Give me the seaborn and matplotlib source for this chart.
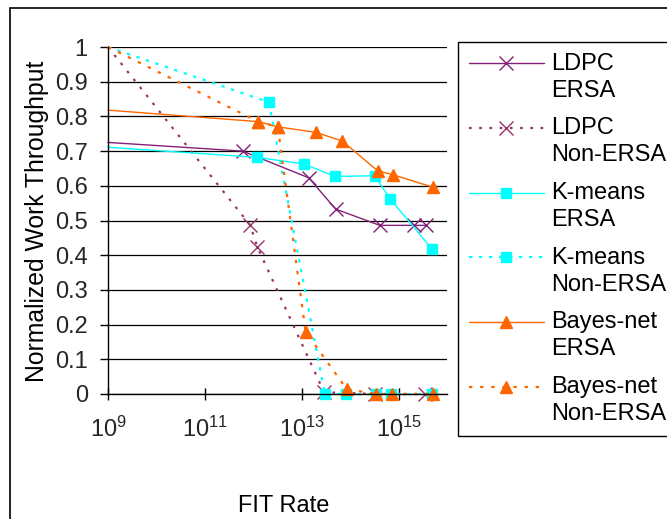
import numpy as np
import pandas as pd
import matplotlib
matplotlib.use("Agg")
import matplotlib.pyplot as plt
import seaborn as sns
from matplotlib.patches import Rectangle
from matplotlib.legend_handler import HandlerLine2D
from matplotlib.ticker import FixedLocator, FixedFormatter, NullLocator

# ---------------- data ----------------
ldpc_ersa_x = [1e9, 6.0e11, 1.4e13, 5.0e13, 4.1e14, 2.1e15, 3.6e15]
ldpc_ersa_y = [0.725, 0.700, 0.623, 0.533, 0.486, 0.486, 0.486]

ldpc_non_x = [1e9, 8.7e11, 1.2e12, 2.9e13, 3.3e14, 3.5e15]
ldpc_non_y = [1.0, 0.486, 0.425, 0.005, 0.0, 0.0]

km_ersa_x = [1e9, 1.2e12, 1.1e13, 4.9e13, 3.2e14, 6.8e14, 4.9e15]
km_ersa_y = [0.711, 0.682, 0.663, 0.627, 0.629, 0.561, 0.418]

km_non_x = [1e9, 2.1e12, 3.0e13, 8.1e13, 3.4e14, 7.1e14, 5.0e15]
km_non_y = [1.0, 0.841, 0.0, 0.0, 0.0, 0.0, 0.0]

bn_ersa_x = [1e9, 1.26e12, 3.2e12, 1.95e13, 6.9e13, 3.7e14, 7.6e14, 5.1e15]
bn_ersa_y = [0.818, 0.785, 0.770, 0.754, 0.729, 0.643, 0.632, 0.596]

bn_non_x = [1e9, 1.26e12, 3.2e12, 1.2e13, 8.5e13, 3.5e14, 7.4e14, 5.2e15]
bn_non_y = [1.0, 0.785, 0.770, 0.180, 0.014, 0.0, 0.0, 0.0]

series_labels = ["LDPC\nERSA", "LDPC\nNon-ERSA", "K-means\nERSA",
                 "K-means\nNon-ERSA", "Bayes-net\nERSA", "Bayes-net\nNon-ERSA"]

x_ticks = [1e9, 1e11, 1e13, 1e15]
x_tick_labels = [r"$10^{9}$", r"$10^{11}$", r"$10^{13}$", r"$10^{15}$"]
y_ticks = [0, 0.1, 0.2, 0.3, 0.4, 0.5, 0.6, 0.7, 0.8, 0.9, 1]
y_tick_labels = ["0", "0.1", "0.2", "0.3", "0.4", "0.5", "0.6", "0.7", "0.8", "0.9", "1"]

# ---------------- style ----------------
sns.set_theme(style="white")
plt.rcParams["font.family"] = ["Liberation Sans", "DejaVu Sans"]
plt.rcParams["mathtext.default"] = "regular"

fig = plt.figure(figsize=(6.67, 5.19), dpi=100)
fig.patch.set_facecolor("white")
ax = fig.add_axes([108 / 667, 1 - 394 / 519, 339 / 667, 347 / 519])
ax.set_facecolor("white")

purple = "#85207A"
plum = "#993366"
cyan = "#00FFFF"
orange = "#FF6600"
dot_purple = (0, (1.2, 3.4))
dot_cyan = (0, (1.5, 3.0))
dot_orange = (0, (1.5, 3.5))

specs = [
    (ldpc_ersa_x, ldpc_ersa_y, purple, "-", 1.0, "x", 10.5, 1.0),
    (ldpc_non_x, ldpc_non_y, plum, dot_purple, 1.6, "x", 10.5, 1.0),
    (km_ersa_x, km_ersa_y, cyan, "-", 1.0, "s", 7, 1.0),
    (km_non_x, km_non_y, cyan, dot_cyan, 1.6, "s", 7, 1.0),
    (bn_ersa_x, bn_ersa_y, orange, "-", 1.0, "^", 9, 1.0),
    (bn_non_x, bn_non_y, orange, dot_orange, 1.6, "^", 9, 1.0),
]

for (xs, ys, col, ls, lw, mk, ms, mew), lab in zip(specs, series_labels):
    df = pd.DataFrame({"FIT": xs, "T": ys})
    sns.lineplot(data=df, x="FIT", y="T", ax=ax, color=col, linestyle=ls,
                 linewidth=lw, marker=mk, markersize=ms, markeredgewidth=mew,
                 markeredgecolor=col, markerfacecolor=col, markevery=slice(1, None),
                 estimator=None, sort=False, label=lab, clip_on=False)

ax.set_xscale("log")
ax.set_xlim(1e9, 1e16)
ax.set_ylim(0, 1)

ax.xaxis.set_major_locator(FixedLocator(x_ticks))
ax.xaxis.set_major_formatter(FixedFormatter(x_tick_labels))
ax.xaxis.set_minor_locator(NullLocator())
ax.yaxis.set_major_locator(FixedLocator(y_ticks))
ax.yaxis.set_major_formatter(FixedFormatter(y_tick_labels))

ax.grid(axis="y", color="black", linewidth=0.9)
ax.grid(axis="x", visible=False)
ax.set_axisbelow(True)

for s in ["top", "right"]:
    ax.spines[s].set_visible(False)
for s in ["left", "bottom"]:
    ax.spines[s].set_color("black")
    ax.spines[s].set_linewidth(1.0)

ax.tick_params(axis="y", direction="out", length=5.5, width=1, color="black",
               labelsize=17, pad=9, left=True)
ax.tick_params(axis="x", direction="inout", length=9, width=1, color="black",
               labelsize=17, pad=12, bottom=True)

ax.set_xlabel("FIT Rate", fontsize=17, color="black")
ax.set_ylabel("Normalized Work Throughput", fontsize=17.8, color="black")
ax.xaxis.set_label_coords(0.519, -0.29)
ax.yaxis.set_label_coords(-0.174, 0.497)


class TopHandler(HandlerLine2D):
    def __init__(self, shift=10.2, **kw):
        super().__init__(**kw)
        self.shift = shift

    def create_artists(self, legend, orig_handle, xdescent, ydescent, width,
                       height, fontsize, trans):
        arts = super().create_artists(legend, orig_handle, xdescent, ydescent,
                                      width, height, fontsize, trans)
        for a in arts:
            a.set_ydata(np.asarray(a.get_ydata(), dtype=float) + self.shift)
        return arts


handles, labels = ax.get_legend_handles_labels()
leg = fig.legend(handles, labels, loc="upper left",
                 bbox_to_anchor=(458 / 667, 1 - 42 / 519),
                 bbox_transform=fig.transFigure, borderaxespad=0,
                 frameon=True, fancybox=False, framealpha=1, edgecolor="black",
                 fontsize=17, handlelength=3.2, handletextpad=0.28,
                 labelspacing=0.66, numpoints=1, borderpad=0.45,
                 handler_map={h: TopHandler() for h in handles})
leg.get_frame().set_linewidth(1.0)
for t in leg.get_texts():
    t.set_linespacing(1.3)
    t.set_color("black")

if ax.get_legend():
    ax.get_legend().remove()

fig.add_artist(Rectangle((10 / 667, -0.2), 2, 1 - 8 / 519 + 0.2,
                         transform=fig.transFigure, fill=False,
                         edgecolor="black", linewidth=1.2))

fig.savefig("out.png", dpi=100, facecolor="white")
